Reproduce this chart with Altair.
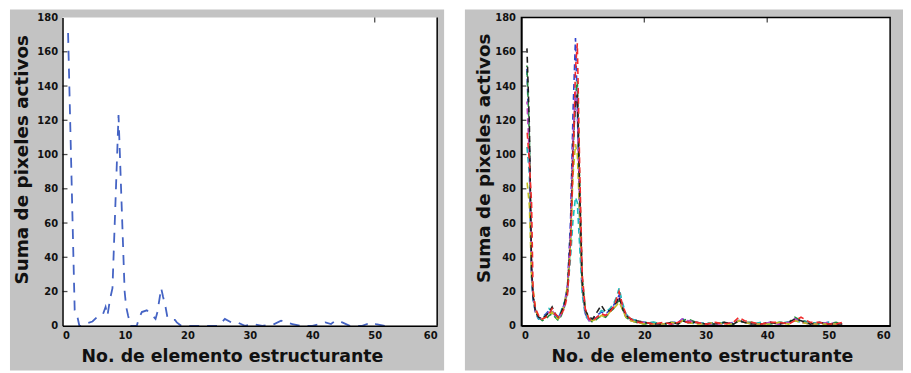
import altair as alt
import pandas as pd

# ---------------- data ----------------
Y_TICKS = [0, 20, 40, 60, 80, 100, 120, 140, 160, 180]
X_TICKS = [0, 10, 20, 30, 40, 50, 60]

LEFT_X = [0.89, 1.95, 2.4, 2.7, 3.1, 3.9, 4.8, 5.8, 6.5, 6.9, 7.2, 7.5, 7.7, 8.0, 8.97,
          9.95, 10.2, 10.5, 10.9, 11.9, 12.2, 12.7, 13.5, 14.2, 14.9, 15.2, 15.5, 15.8,
          16.1, 16.5, 16.8, 17.3, 18.0, 18.3, 19.0, 25.0, 26.0, 27.0, 28.0, 29.2, 30.5,
          32.0, 33.9, 35.0, 35.7, 36.8, 38.0, 40.0, 41.3, 42.1, 43.0, 43.7, 44.8, 46.0,
          48.0, 49.5, 50.2, 51.6]
LEFT_Y = [171, 9, 5, 0, 0, 1.5, 2.5, 6, 7, 11, 6, 13, 17, 22, 123,
          20, 11, 6, 0, 0, 4, 8, 9, 7, 4, 8, 15, 22,
          17, 11, 5, 3.5, 3.5, 2, 0, 0, 4, 2, 2, 0, 1,
          0, 1, 3, 2, 1, 0, 0, 1, 2, 1, 3, 2, 0,
          0, 2, 1, 0]

RIGHT_X = [0.9, 1.3, 1.65, 1.9, 2.3, 2.8, 3.4, 4.0, 4.5, 5.0,
           5.5, 6.0, 6.5, 7.0, 7.5, 8.0, 8.4, 8.8, 9.1, 9.5,
           9.9, 10.4, 11.0, 11.6, 12.3, 13.0, 13.7, 14.4, 15.0, 15.5,
           15.9, 16.4, 17.0, 17.8, 18.8, 20.0, 21.5, 23.0, 24.5, 25.5,
           26.2, 27.0, 28.5, 30.0, 31.5, 33.0, 34.5, 35.4, 36.3, 37.5,
           39.0, 40.5, 42.0, 43.5, 44.5, 45.5, 47.0, 48.5, 50.0, 51.2,
           52.2]
BLUE = [150, 104, 30, 16, 7, 4, 5, 7, 9, 8,
        6, 5, 8, 13, 24, 62, 125, 168, 128, 58,
        22, 7, 3, 4, 6, 8, 7, 9, 12, 15,
        18, 11, 6, 4, 3, 2, 1, 1, 2, 2,
        4, 3, 2, 1, 2, 1, 2, 3, 2, 1,
        1, 2, 1, 2, 4, 3, 2, 1, 2, 1,
        1]
GREEN = [152, 110, 35, 18, 9, 5, 3, 4, 6, 7,
         5, 3, 6, 11, 20, 50, 100, 135, 143, 80,
         28, 9, 4, 2, 4, 6, 5, 8, 10, 13,
         15, 10, 5, 3, 2, 1, 2, 1, 1, 2,
         3, 4, 2, 1, 1, 2, 1, 3, 2, 2,
         1, 1, 2, 2, 5, 3, 2, 1, 1, 2,
         1]
RED = [115, 95, 72, 20, 10, 6, 4, 5, 7, 10,
       7, 5, 7, 10, 18, 45, 95, 150, 165, 90,
       30, 10, 4, 3, 5, 7, 6, 8, 11, 16,
       20, 13, 7, 4, 2, 2, 1, 2, 1, 2,
       3, 2, 2, 1, 2, 1, 2, 5, 3, 2,
       1, 2, 2, 1, 3, 5, 2, 2, 1, 1,
       2]
CYAN = [105, 88, 28, 15, 8, 4, 5, 6, 10, 8,
        6, 4, 9, 14, 20, 40, 62, 75, 72, 45,
        18, 6, 3, 3, 5, 9, 8, 10, 13, 17,
        22, 14, 7, 4, 3, 2, 2, 1, 2, 1,
        3, 2, 1, 2, 1, 2, 1, 3, 2, 1,
        2, 1, 2, 2, 3, 2, 2, 1, 2, 1,
        1]
MAGENTA = [131, 98, 32, 17, 8, 5, 4, 6, 8, 9,
           6, 4, 7, 12, 22, 55, 110, 137, 125, 70,
           24, 8, 3, 3, 5, 7, 6, 9, 11, 14,
           16, 11, 6, 3, 2, 2, 1, 1, 1, 2,
           4, 3, 2, 1, 1, 1, 2, 3, 2, 1,
           1, 2, 1, 2, 4, 2, 1, 1, 2, 1,
           1]
YELLOW = [85, 70, 28, 22, 9, 5, 4, 5, 7, 8,
          5, 4, 8, 12, 24, 48, 88, 106, 100, 62,
          24, 9, 4, 3, 4, 6, 5, 8, 10, 12,
          14, 10, 5, 3, 2, 1, 1, 1, 2, 1,
          3, 2, 1, 1, 2, 1, 1, 3, 2, 1,
          1, 1, 2, 1, 3, 2, 1, 1, 1, 1,
          1]
BLACK = [162, 117, 33, 17, 8, 5, 4, 6, 8, 11,
         7, 5, 8, 13, 20, 52, 105, 130, 135, 75,
         25, 9, 5, 4, 8, 12, 8, 9, 11, 14,
         17, 11, 6, 4, 3, 2, 1, 1, 2, 1,
         3, 2, 2, 1, 1, 2, 1, 3, 2, 1,
         1, 2, 1, 2, 4, 3, 1, 2, 1, 1,
         1]

RIGHT_SERIES = [("b", BLUE, "#3044d0", 0), ("g", GREEN, "#1f8a3a", 3),
                ("c", CYAN, "#1cbcbc", 6), ("m", MAGENTA, "#c044c0", 2),
                ("y", YELLOW, "#c4bc20", 5), ("k", BLACK, "#202020", 1),
                ("r", RED, "#f02a2a", 4)]

TITLE_Y = "Suma de pixeles activos"
TITLE_X = "No. de elemento estructurante"

GRAY = "#c3c3c3"
WL, WR, H = 378, 372, 311
FONT = "DejaVu Sans"


def enc_x(title_x):
    return alt.X("x:Q", scale=alt.Scale(domain=[0, 60], nice=False),
                 axis=alt.Axis(values=X_TICKS, title=TITLE_X, titleX=title_x, titleY=31,
                               titleAlign="center", titleBaseline="middle",
                               titleFontSize=17.5, labelPadding=5, zindex=3))


def enc_y(title_x, title_y, pad):
    return alt.Y("y:Q", scale=alt.Scale(domain=[0, 180], nice=False),
                 axis=alt.Axis(values=Y_TICKS, title=TITLE_Y, titleX=title_x, titleY=title_y,
                               titleAngle=270, titleAlign="center", titleBaseline="middle",
                               titleFontSize=18.5, labelPadding=pad, zindex=3))


def frame(w, left_ext, right_ext):
    bg = alt.Chart(pd.DataFrame({"a": [0]})).mark_rect(color=GRAY).encode(
        x=alt.value(-left_ext), x2=alt.value(w + right_ext),
        y=alt.value(-8), y2=alt.value(356))
    white = alt.Chart(pd.DataFrame({"a": [0]})).mark_rect(color="white").encode(
        x=alt.value(0), x2=alt.value(w), y=alt.value(0), y2=alt.value(H))
    return [bg, white]


def inner_ticks(ex, ey):
    yt = alt.Chart(pd.DataFrame({"y": Y_TICKS[1:-1]})).mark_tick(
        orient="horizontal", size=5, thickness=1.3, color="black").encode(
        y=ey, x=alt.value(2.5))
    return yt


# ---------------- left panel ----------------
exL = enc_x(171)
eyL = enc_y(-41, 143, 5)
left_df = pd.DataFrame({"x": LEFT_X, "y": LEFT_Y})
left_line = alt.Chart(left_df).mark_line(
    color="#4463c4", strokeWidth=1.8, strokeDash=[10, 8]).encode(x=exL, y=eyL)
left_border = alt.Chart(pd.DataFrame({"a": [0]})).mark_rule(
    color="black", strokeWidth=1.5).encode(x=alt.value(WL), y=alt.value(0), y2=alt.value(H))
left_top_tick = alt.Chart(pd.DataFrame({"x": [50]})).mark_tick(
    orient="vertical", size=5, thickness=1.3, color="black").encode(x=exL, y=alt.value(2.5))

left = alt.layer(*frame(WL, 53, 7), inner_ticks(exL, eyL), left_top_tick, left_line,
                 left_border).properties(width=WL, height=H)

# ---------------- right panel ----------------
exR = enc_x(182)
eyR = enc_y(-38, 141.5, 6)
layers = frame(WR, 57, 13) + [inner_ticks(exR, eyR)]
layers.append(alt.Chart(pd.DataFrame({"x": [20, 40]})).mark_tick(
    orient="vertical", size=5, thickness=1.3, color="black").encode(x=exR, y=alt.value(2.5)))
for name, vals, col, off in RIGHT_SERIES:
    df = pd.DataFrame({"x": RIGHT_X, "y": vals})
    layers.append(alt.Chart(df).mark_line(
        color=col, strokeWidth=1.6, strokeDash=[6, 4], strokeDashOffset=off * 1.5).encode(
        x=exR, y=eyR))
right_box = alt.Chart(pd.DataFrame({"a": [0]})).mark_rect(
    fill=None, stroke="black", strokeWidth=1.5).encode(
    x=alt.value(0), x2=alt.value(WR), y=alt.value(0), y2=alt.value(H))
layers.append(right_box)
right = alt.layer(*layers).properties(width=WR, height=H)

chart = alt.hconcat(left, right, spacing=85, bounds="flush").properties(
    padding={"left": 2, "top": 0, "right": 0, "bottom": 0},
    background="white",
).configure_view(stroke=None).configure_axis(
    grid=False, ticks=False, domainColor="black", domainWidth=1.5,
    labelFont=FONT, labelFontWeight="bold", labelFontSize=10, labelColor="#111111",
    titleFont=FONT, titleFontWeight="bold", titleColor="#111111",
)

chart.save("out.html", embed_options={"renderer": "svg", "actions": False})
